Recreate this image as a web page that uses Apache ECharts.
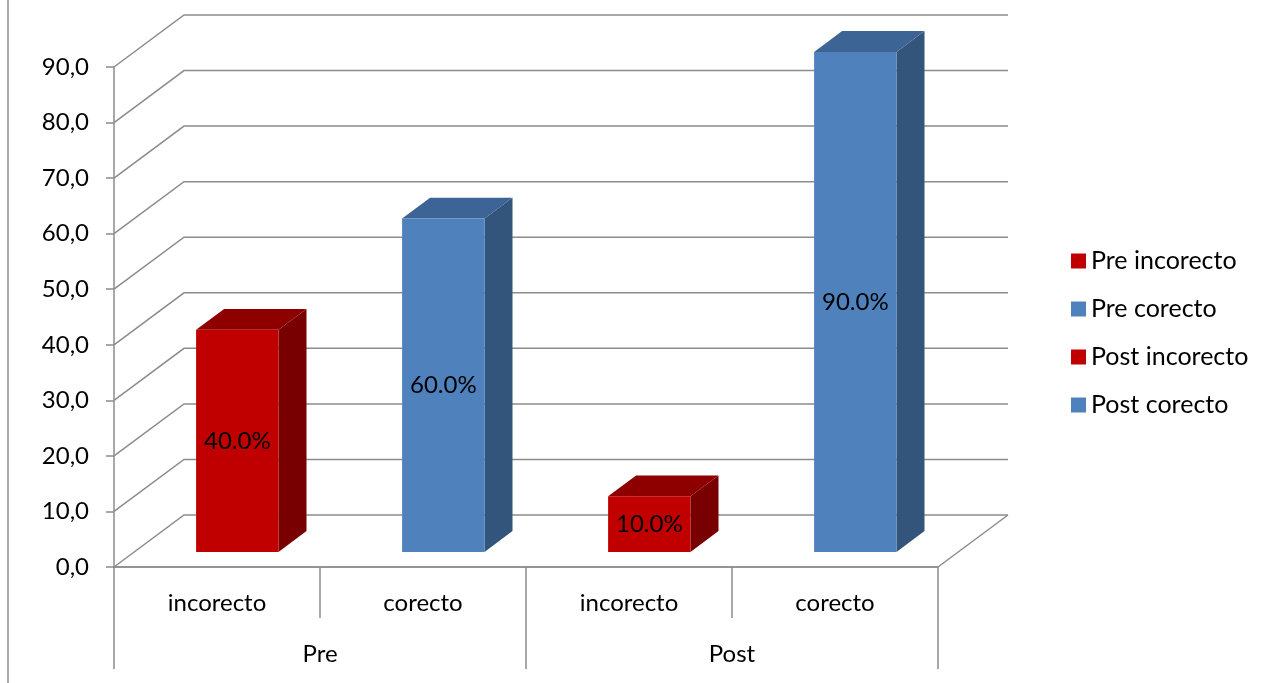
<!DOCTYPE html>
<html>
<head>
<meta charset="utf-8">
<script src="https://cdn.jsdelivr.net/npm/echarts@6/dist/echarts.min.js"></script>
<style>
    html, body { margin: 0; padding: 0; background: #fff; }
    #chart { width: 1269px; height: 683px; }
</style>
</head>
<body>
<div id="chart"></div>
<script>
const categories  = ['incorecto', 'corecto', 'incorecto', 'corecto'];
const groups      = ['Pre', 'Post'];
const seriesNames = ['Pre incorecto', 'Pre corecto', 'Post incorecto', 'Post corecto'];
const values      = [40, 60, 10, 90];
const wallValues  = [0, 10, 20, 30, 40, 50, 60, 70, 80, 90];

const FONT = 'Lato';
const GRAY = '#8c8c8c';
const DEPTH = [70, -52];            // offset front plane -> back wall
const BAR_FRONT = 0.29, BAR_BACK = 0.69;
const colors = [
    {front: '#C00000', top: '#8E0000', side: '#780000'},
    {front: '#4F81BD', top: '#3C6494', side: '#33547B'},
    {front: '#C00000', top: '#8E0000', side: '#780000'},
    {front: '#4F81BD', top: '#3C6494', side: '#33547B'}
];

// back wall + floor lines
function renderWall(params, api) {
    const v = api.value(1);
    const band = api.size([1, 0])[0];
    const left = api.coord([0, v]);
    const right = api.coord([categories.length - 1, v]);
    left[0] -= band / 2;
    right[0] += band / 2;
    const children = [{
        type: 'polyline',
        shape: {points: [left, [left[0] + DEPTH[0], left[1] + DEPTH[1]], [right[0] + DEPTH[0], right[1] + DEPTH[1]]]},
        style: {stroke: GRAY, lineWidth: 1.5, fill: null}
    }];
    if (v === 0) {
        children.push({
            type: 'line',
            shape: {x1: right[0], y1: right[1], x2: right[0] + DEPTH[0], y2: right[1] + DEPTH[1]},
            style: {stroke: GRAY, lineWidth: 1.5}
        });
    }
    return {type: 'group', children: children};
}

// 3d looking bar
function makeBar(c) {
    return function (params, api) {
        const i = api.value(0), v = api.value(1);
        const band = api.size([1, 0])[0];
        const w = band * 0.4;
        const base = api.coord([i, 0]);
        const topPt = api.coord([i, v]);
        const fx = DEPTH[0] * BAR_FRONT, fy = DEPTH[1] * BAR_FRONT;
        const dx = DEPTH[0] * (BAR_BACK - BAR_FRONT), dy = DEPTH[1] * (BAR_BACK - BAR_FRONT);
        const x0 = base[0] - w / 2 + fx, x1 = base[0] + w / 2 + fx;
        const yb = base[1] + fy, yt = topPt[1] + fy;
        return {
            type: 'group',
            children: [
                {type: 'polygon', shape: {points: [[x1, yt], [x1 + dx, yt + dy], [x1 + dx, yb + dy], [x1, yb]]},
                    style: {fill: c.side}},
                {type: 'polygon', shape: {points: [[x0, yt], [x1, yt], [x1 + dx, yt + dy], [x0 + dx, yt + dy]]},
                    style: {fill: c.top}},
                {type: 'rect', shape: {x: x0, y: yt, width: x1 - x0, height: yb - yt},
                    style: {fill: c.front}},
                {type: 'text', x: (x0 + x1) / 2, y: (yt + yb) / 2,
                    style: {text: v.toFixed(1) + '%', fill: '#000', font: '24px ' + FONT, align: 'center', verticalAlign: 'middle'}}
            ]
        };
    };
}

const series = [{
    type: 'custom',
    name: 'wall',
    renderItem: renderWall,
    data: wallValues.map(v => [0, v]),
    encode: {x: 0, y: 1},
    silent: true,
    z: 1
}];
seriesNames.forEach(function (name, i) {
    series.push({
        type: 'custom',
        name: name,
        renderItem: makeBar(colors[i]),
        itemStyle: {color: colors[i].front},
        data: [[i, values[i]]],
        encode: {x: 0, y: 1},
        z: 3
    });
});

const chart = echarts.init(document.getElementById('chart'));
chart.setOption({
    animation: false,
    backgroundColor: '#fff',
    grid: {left: 114, right: 331, top: 67, bottom: 116},
    legend: {
        data: seriesNames,
        orient: 'vertical',
        left: 1071, top: 248,
        padding: 0,
        icon: 'rect',
        itemWidth: 15, itemHeight: 15,
        itemGap: 22,
        textStyle: {fontFamily: FONT, fontSize: 25, lineHeight: 26, color: '#000'}
    },
    xAxis: [{
        type: 'category',
        data: categories,
        position: 'bottom',
        axisLine: {lineStyle: {color: GRAY, width: 1.5}},
        axisTick: {show: true, length: 51, lineStyle: {color: GRAY, width: 1.5}},
        axisLabel: {margin: 24, color: '#000', fontFamily: FONT, fontSize: 24},
        splitLine: {show: false}
    }, {
        type: 'category',
        data: groups,
        position: 'bottom',
        axisLine: {lineStyle: {color: GRAY, width: 1.5}},
        axisTick: {show: true, length: 102, lineStyle: {color: GRAY, width: 1.5}},
        axisLabel: {margin: 75, color: '#000', fontFamily: FONT, fontSize: 24},
        splitLine: {show: false}
    }],
    yAxis: {
        type: 'value',
        min: 0, max: 90, interval: 10,
        axisLine: {show: true, lineStyle: {color: GRAY, width: 1.5}},
        axisTick: {show: true, length: 8, lineStyle: {color: GRAY, width: 1.5}},
        axisLabel: {
            margin: 25, color: '#000', fontFamily: FONT, fontSize: 24,
            formatter: v => v.toFixed(1).replace('.', ',')
        },
        splitLine: {show: false}
    },
    graphic: [{
        type: 'line',
        shape: {x1: 8, y1: 0, x2: 8, y2: 683},
        style: {stroke: GRAY, lineWidth: 1.5}
    }],
    series: series
});
</script>
</body>
</html>
